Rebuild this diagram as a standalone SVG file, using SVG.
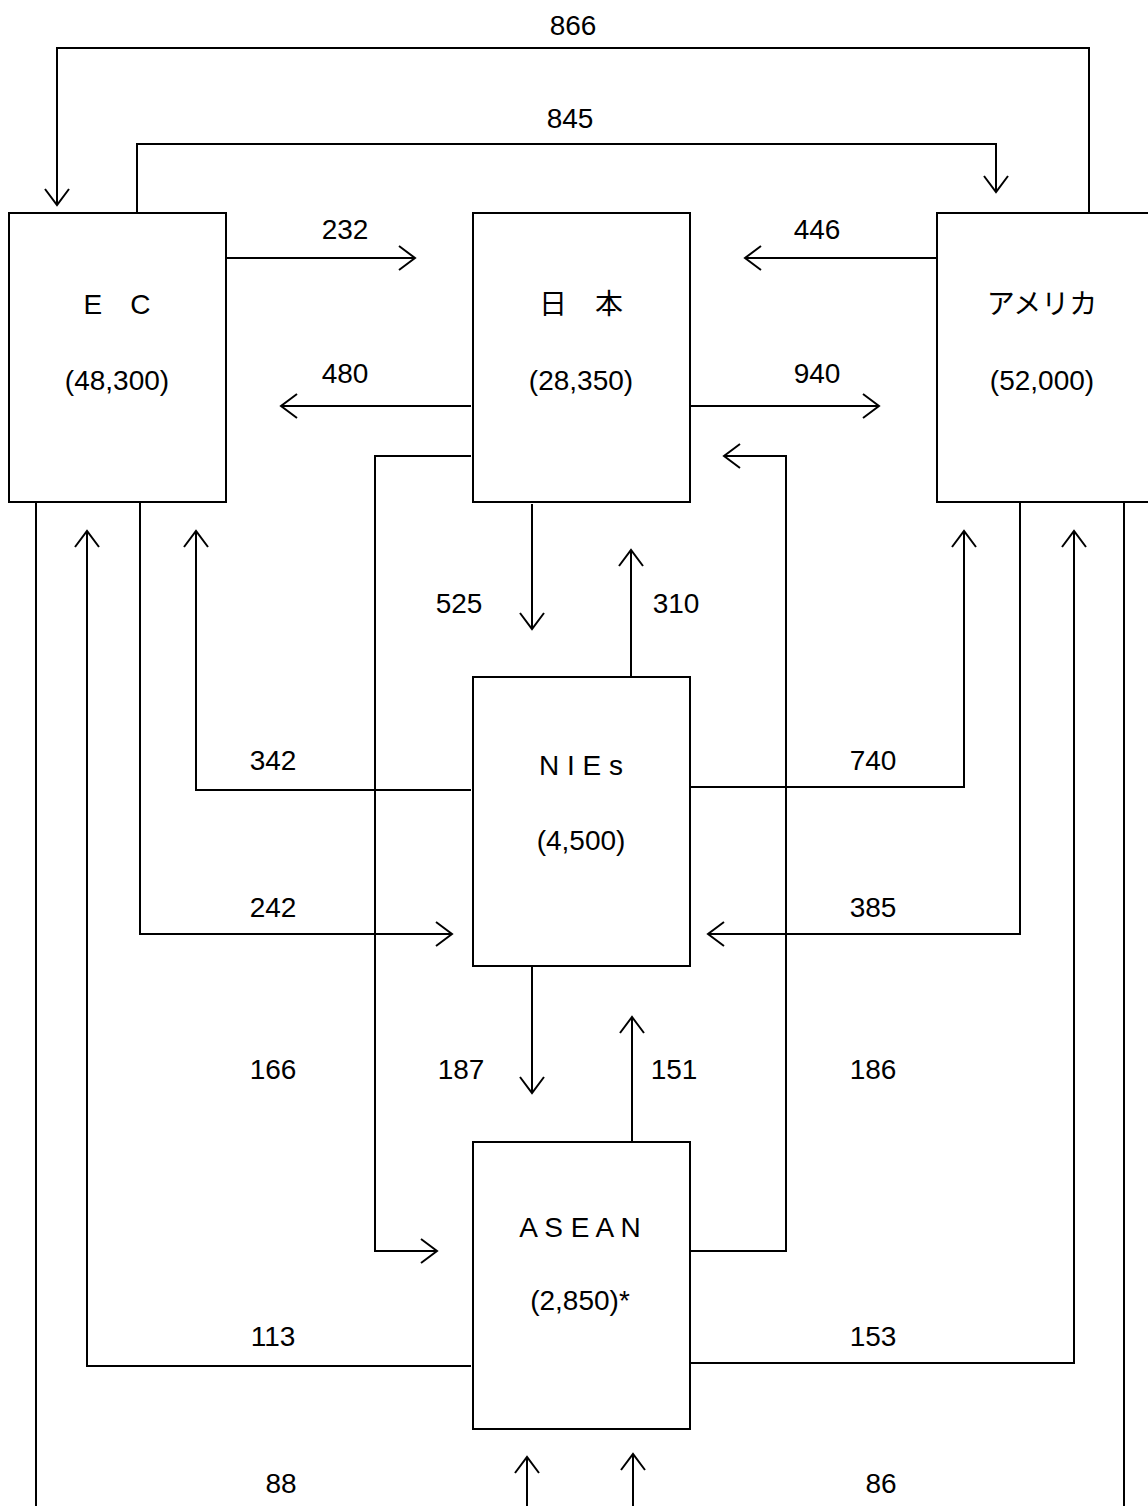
<svg xmlns="http://www.w3.org/2000/svg" width="1148" height="1506" viewBox="0 0 1148 1506">
<style>
.box{fill:#fff;stroke:#000;stroke-width:2}
.c{fill:none;stroke:#000;stroke-width:2;marker-end:url(#ah)}
.t{font-family:"Liberation Sans","Noto Sans CJK JP",Arial,sans-serif;font-size:28px;fill:#000;text-anchor:middle}
</style>
<defs>
<marker id="ah" markerUnits="userSpaceOnUse" markerWidth="40" markerHeight="40" viewBox="-20 -20 40 40" refX="0" refY="0" orient="auto" overflow="visible">
<path d="M-16,-12 L0,0 L-16,12" fill="none" stroke="#000" stroke-width="2"/>
</marker>
</defs>
<rect width="1148" height="1506" fill="#fff"/>
<g id="connectors">
<path class="c" d="M1089,213 V48 H57 V205"/>
<path class="c" d="M137,213 V144 H996 V192"/>
<path class="c" d="M226,258 H415"/>
<path class="c" d="M937,258 H745"/>
<path class="c" d="M471,406 H281"/>
<path class="c" d="M690,406 H879"/>
<path class="c" d="M471,456 H375 V1251 H437"/>
<path class="c" d="M690,1251 H786 V456 H724"/>
<path class="c" d="M532,504 V629"/>
<path class="c" d="M631,677 V550"/>
<path class="c" d="M471,790 H196 V531"/>
<path class="c" d="M690,787 H964 V531"/>
<path class="c" d="M140,502 V934 H452"/>
<path class="c" d="M1020,502 V934 H708"/>
<path class="c" d="M532,966 V1093"/>
<path class="c" d="M632,1142 V1017"/>
<path class="c" d="M471,1366 H87 V531"/>
<path class="c" d="M690,1363 H1074 V531"/>
<path class="c" d="M36,502 V1540 H527 V1457"/>
<path class="c" d="M1124,502 V1540 H633 V1454"/>
</g>
<g id="labels">
<text class="t" x="573" y="35">866</text>
<text class="t" x="570" y="128">845</text>
<text class="t" x="345" y="239">232</text>
<text class="t" x="817" y="239">446</text>
<text class="t" x="345" y="383">480</text>
<text class="t" x="817" y="383">940</text>
<text class="t" x="459" y="613">525</text>
<text class="t" x="676" y="613">310</text>
<text class="t" x="273" y="770">342</text>
<text class="t" x="873" y="770">740</text>
<text class="t" x="273" y="917">242</text>
<text class="t" x="873" y="917">385</text>
<text class="t" x="273" y="1079">166</text>
<text class="t" x="461" y="1079">187</text>
<text class="t" x="674" y="1079">151</text>
<text class="t" x="873" y="1079">186</text>
<text class="t" x="273" y="1346">113</text>
<text class="t" x="873" y="1346">153</text>
<text class="t" x="281" y="1493">88</text>
<text class="t" x="881" y="1493">86</text>
</g>
<g id="node-ec">
<rect class="box" x="9" y="213" width="217" height="289"/>
<text class="t" x="117" y="314">E　C</text>
<text class="t" x="117" y="390">(48,300)</text>
</g>
<g id="node-japan">
<rect class="box" x="473" y="213" width="217" height="289"/>
<text class="t" x="581" y="314">日　本</text>
<text class="t" x="581" y="390">(28,350)</text>
</g>
<g id="node-america">
<rect class="box" x="937" y="213" width="240" height="289"/>
<text class="t" x="1042" y="314">アメリカ</text>
<text class="t" x="1042" y="390">(52,000)</text>
</g>
<g id="node-nies">
<rect class="box" x="473" y="677" width="217" height="289"/>
<text class="t" x="581" y="775">N I E s</text>
<text class="t" x="581" y="850">(4,500)</text>
</g>
<g id="node-asean">
<rect class="box" x="473" y="1142" width="217" height="287"/>
<text class="t" x="580" y="1237">A S E A N</text>
<text class="t" x="580" y="1310">(2,850)*</text>
</g>
</svg>
